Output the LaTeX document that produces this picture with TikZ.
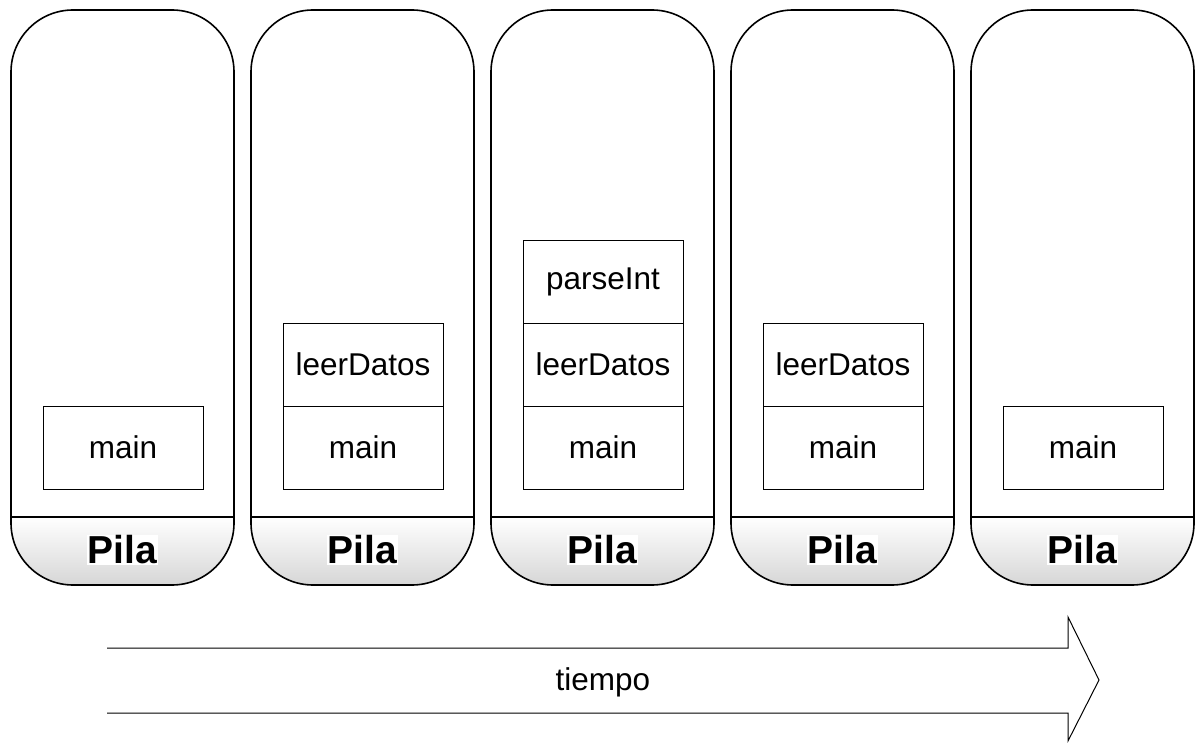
\documentclass[tikz,border=0pt]{standalone}
\usepackage{fontspec}
\setmainfont{Liberation Sans}
\begin{document}
\begin{tikzpicture}[x=1pt,y=-1pt,
  colbox/.style={draw=black,line width=1.6pt,rounded corners=62pt,minimum width=223pt,minimum height=575pt,inner sep=0pt},
  frame/.style={draw=black,line width=0.8pt,fill=white,minimum width=160pt,minimum height=83pt,inner sep=0pt,font=\fontsize{31.5}{35}\selectfont},
  pila/.style={fill=white,inner sep=1pt,font=\fontsize{39}{42}\selectfont\bfseries},
  timearrow/.style={draw=black,line width=1pt,line join=miter}]
\useasboundingbox (0,0) rectangle (1195,743);
\foreach \i in {0,...,4} {
  \pgfmathsetmacro{\xl}{11+240*\i}
  \begin{scope}
    \clip[rounded corners=62pt] (\xl,10) rectangle ++(223,575);
    \shade[top color=white,bottom color=gray!32] (\xl,517) rectangle ++(223,68);
  \end{scope}
  \node[colbox] (c\i) at (\xl+111.5,297.5) {};
  \draw[line width=1.6pt] (c\i.west |- 0,517) -- (c\i.east |- 0,517);
  \node[pila] (p\i) at (\xl+111.5,550) {Pila};
}
% stack frames
\node[frame] (m0) at (123,447.5) {main};
\node[frame] (m1) at (363,447.5) {main};
\node[frame] (l1) at (363,364.5) {leerDatos};
\node[frame] (m2) at (603,447.5) {main};
\node[frame] (l2) at (603,364.5) {leerDatos};
\node[frame] (q2) at (603,281.5) {parseInt};
\node[frame] (m3) at (843,447.5) {main};
\node[frame] (l3) at (843,364.5) {leerDatos};
\node[frame] (m4) at (1083,447.5) {main};
% time arrow
\node[font=\fontsize{31.5}{35}\selectfont] (t) at (603,682) {tiempo};
\coordinate (a1) at (107,648);
\coordinate (a2) at (1068,648);
\coordinate (a3) at (1068,617);
\coordinate (a4) at (1099,680);
\coordinate (a5) at (1068,741);
\coordinate (a6) at (1068,713);
\coordinate (a7) at (107,713);
\draw[timearrow] (a1) -- (a2) -- (a3) -- (a4) -- (a5) -- (a6) -- (a7);
\end{tikzpicture}
\end{document}
